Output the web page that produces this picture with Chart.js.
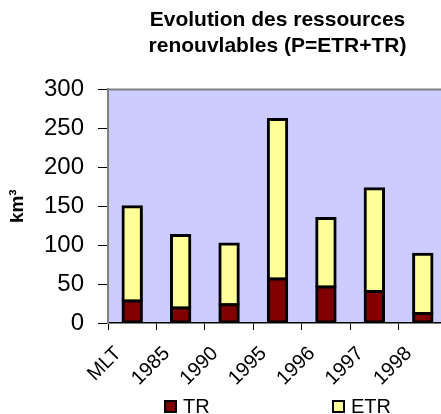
<!DOCTYPE html>
<html>
<head>
<meta charset="utf-8">
<script src="https://cdn.jsdelivr.net/npm/chart.js@4"></script>
<style>
  html, body { margin: 0; padding: 0; background: #fff; overflow: hidden; }
  #wrap { width: 460px; height: 414px; }
</style>
</head>
<body>
<div id="wrap"><canvas id="chart"></canvas></div>
<script>
// ---------------------------------------------------------------
//  Data (km³)
// ---------------------------------------------------------------
const CATEGORIES = ["MLT", "1985", "1990", "1995", "1996", "1997", "1998"];
const TR_VALUES  = [29, 20, 24, 57, 47, 41, 13];
const ETR_VALUES = [121, 93, 78, 205, 88, 132, 76];
const Y_TICKS    = [0, 50, 100, 150, 200, 250, 300];

const FONT = "'Liberation Sans', Arial, sans-serif";

// ---------------------------------------------------------------
//  Plot area background + top border
// ---------------------------------------------------------------
const plotAreaPlugin = {
  id: "plotArea",
  beforeDraw(chart) {
    const { ctx: c, chartArea: a } = chart;
    c.save();
    c.fillStyle = "#ccccff";
    c.fillRect(a.left, a.top, a.right - a.left, a.bottom - a.top);
    c.strokeStyle = "#808080";
    c.lineWidth = 2;
    c.beginPath();
    c.moveTo(a.left, a.top);
    c.lineTo(a.right, a.top);
    c.lineTo(a.right, a.bottom);
    c.stroke();
    c.restore();
  },
};

// ---------------------------------------------------------------
//  Legend spread under the plot, Excel style
// ---------------------------------------------------------------
const LEGEND_X = [164, 332];
const legendPlugin = {
  id: "spreadLegend",
  afterDraw(chart) {
    const c = chart.ctx;
    c.save();
    chart.data.datasets.forEach((ds, i) => {
      const x = LEGEND_X[i], y = 400;
      c.fillStyle = ds.backgroundColor;
      c.fillRect(x, y, 13, 13);
      c.strokeStyle = "#000";
      c.lineWidth = 2;
      c.strokeRect(x + 1, y + 1, 11, 11);
      c.fillStyle = "#000";
      c.font = "20px " + FONT;
      c.textBaseline = "alphabetic";
      c.textAlign = "left";
      c.fillText(ds.label, x + 19, y + 13);
    });
    c.restore();
  },
};

// inflateAmount 1 makes the two stacked segments overlap by a pixel,
// so the seam between them stays solid black
new Chart(document.getElementById("chart"), {
  type: "bar",
  data: {
    labels: CATEGORIES,
    datasets: [
      {
        label: "TR",
        data: TR_VALUES,
        backgroundColor: "#800000",
        borderColor: "#000",
        borderWidth: { top: 3, left: 3, right: 3, bottom: 3 },
        borderSkipped: false,
        inflateAmount: 1,
      },
      {
        label: "ETR",
        data: ETR_VALUES,
        backgroundColor: "#ffff99",
        borderColor: "#000",
        borderWidth: { top: 3, left: 3, right: 3, bottom: 2 },
        borderSkipped: false,
        inflateAmount: 1,
      },
    ],
  },
  options: {
    responsive: true,
    maintainAspectRatio: false,
    animation: false,
    layout: { padding: { left: 0, right: 13, top: 0, bottom: 0 } },
    datasets: { bar: { categoryPercentage: 1, barPercentage: 0.4 } },
    scales: {
      x: {
        stacked: true,
        afterFit: s => { s.height = 91; },
        border: { color: "#000", width: 1.5 },
        grid: { drawOnChartArea: false, drawTicks: true, tickLength: 7, color: "#000" },
        ticks: {
          color: "#000",
          font: { family: FONT, size: 20 },
          maxRotation: 45,
          minRotation: 45,
          labelOffset: -14,
          padding: 12,
        },
      },
      y: {
        stacked: true,
        min: 0,
        max: 300,
        afterFit: s => { s.width = 108; },
        afterBuildTicks: s => { s.ticks = Y_TICKS.map(v => ({ value: v })); },
        border: { color: "#808080", width: 2 },
        grid: { drawOnChartArea: false, drawTicks: true, tickLength: 10, color: "#000" },
        ticks: {
          color: "#000",
          font: { family: FONT, size: 24 },
          padding: 14,
        },
        title: {
          display: true,
          text: "km³",
          color: "#000",
          font: { family: FONT, size: 19, weight: "bold" },
          padding: { top: 6, bottom: 0 },
        },
      },
    },
    plugins: {
      legend: { display: false },
      tooltip: { enabled: false },
      title: {
        display: true,
        fullSize: false,
        text: ["Evolution des ressources", "renouvlables (P=ETR+TR)"],
        color: "#000",
        font: { family: FONT, size: 21, weight: "bold", lineHeight: 1.2 },
        padding: { top: 8, bottom: 31 },
      },
    },
  },
  plugins: [plotAreaPlugin, legendPlugin],
});
</script>
</body>
</html>
